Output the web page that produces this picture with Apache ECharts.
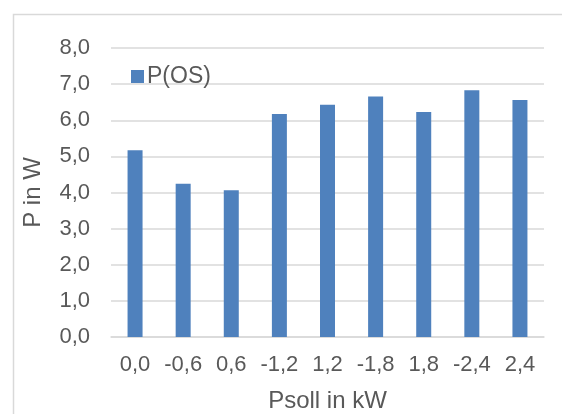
<!DOCTYPE html>
<html>
<head>
<meta charset="utf-8">
<script src="https://cdn.jsdelivr.net/npm/echarts@6/dist/echarts.min.js"></script>
<style>
html,body{margin:0;padding:0;background:#fff;}
#chart{width:562px;height:414px;}
</style>
</head>
<body>
<div id="chart"></div>
<script>
const categories = ['0,0', '-0,6', '0,6', '-1,2', '1,2', '-1,8', '1,8', '-2,4', '2,4'];
const seriesName = 'P(OS)';
const values = [5.17, 4.24, 4.06, 6.17, 6.43, 6.66, 6.23, 6.83, 6.56];
const yMin = 0, yMax = 8, yStep = 1;

const textColor = '#595959';
const font = 'Liberation Sans, Arial, sans-serif';
const chart = echarts.init(document.getElementById('chart'));
chart.setOption({
  animation: false,
  backgroundColor: '#fff',
  graphic: [{
    type: 'rect', left: 11, top: 12,
    shape: { width: 600, height: 450 },
    style: { fill: 'none', stroke: '#d9d9d9', lineWidth: 1.5 },
    z: -1
  }],
  grid: { left: 111, top: 48, right: 18, bottom: 77, outerBoundsMode: 'none', containLabel: false },
  legend: {
    left: 126, top: 60,
    itemWidth: 13, itemHeight: 13, itemGap: 6,
    icon: 'rect',
    textStyle: { color: textColor, fontSize: 23, fontFamily: font, padding: [0,0,0,-2] },
    data: [seriesName]
  },
  xAxis: {
    type: 'category',
    data: categories,
    name: 'Psoll in kW',
    nameLocation: 'middle',
    nameGap: 52,
    nameTextStyle: { color: textColor, fontSize: 24, fontFamily: font },
    axisLine: { lineStyle: { color: '#d9d9d9', width: 1.5 } },
    axisTick: { show: false },
    axisLabel: { color: textColor, fontSize: 22, fontFamily: font, margin: 17, interval: 0, hideOverlap: false }
  },
  yAxis: {
    type: 'value',
    min: yMin, max: yMax, interval: yStep,
    name: 'P in W',
    nameLocation: 'middle',
    nameGap: 66,
    nameTextStyle: { color: textColor, fontSize: 24, fontFamily: font },
    axisLine: { show: false },
    axisTick: { show: false },
    splitLine: { lineStyle: { color: '#d9d9d9', width: 1.5 } },
    axisLabel: {
      color: textColor, fontSize: 22, fontFamily: font, margin: 21,
      formatter: v => v.toFixed(1).replace('.', ',')
    }
  },
  series: [{
    name: seriesName,
    type: 'bar',
    data: values,
    barWidth: 15,
    itemStyle: { color: '#4f81bd' }
  }]
});
</script>
</body>
</html>
